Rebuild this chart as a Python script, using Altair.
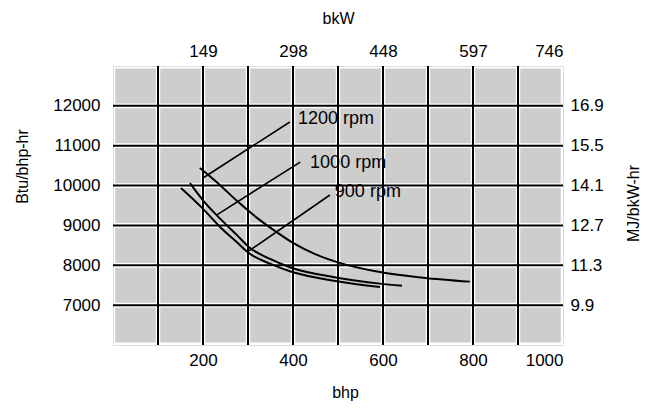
import json
import altair as alt
import pandas as pd

# ---- data ----
bhp_ticks = [200, 400, 600, 800, 1000]
bkw_labels = ["149", "298", "448", "597", "746"]
btu_ticks = [7000, 8000, 9000, 10000, 11000, 12000]
mj_labels = ["9.9", "11.3", "12.7", "14.1", "15.5", "16.9"]
x_grid = [100, 200, 300, 400, 500, 600, 700, 800, 900]
y_grid = [7000, 8000, 9000, 10000, 11000, 12000]

rpm_1200_x = [193, 238, 276, 320, 364, 400, 449, 498, 593, 689, 793]
rpm_1200_y = [10440, 10010, 9610, 9190, 8830, 8560, 8280, 8080, 7830, 7690, 7590]
rpm_1000_x = [171, 200, 238, 276, 304, 349, 393, 498, 593, 642]
rpm_1000_y = [10060, 9630, 9170, 8750, 8440, 8160, 7950, 7690, 7540, 7485]
rpm_900_x = [151, 198, 238, 276, 304, 349, 393, 498, 593]
rpm_900_y = [9940, 9440, 8960, 8570, 8290, 8040, 7850, 7600, 7455]

labels = ["1200 rpm", "1000 rpm", "900 rpm"]
label_x = [411, 438, 493]
label_y = [11670, 10566, 9839]
leader_from_x = [393, 416, 482]
leader_from_y = [11595, 10590, 9764]
leader_to_x = [200, 230, 302]
leader_to_y = [10190, 9260, 8360]

X_DOM = [0, 1000]
Y_DOM = [6000, 13000]
FONT = "Liberation Sans"

# ---- tables ----
cells = []
xs = [X_DOM[0]] + x_grid + [X_DOM[1]]
ys = [Y_DOM[0]] + y_grid + [Y_DOM[1]]
for i in range(len(xs) - 1):
    for j in range(len(ys) - 1):
        cells.append({"x": xs[i] + 5, "x2": xs[i + 1] - 5,
                      "y": ys[j] + 60, "y2": ys[j + 1] - 60})
cells = pd.DataFrame(cells)

curves = pd.concat([
    pd.DataFrame({"bhp": rpm_1200_x, "btu": rpm_1200_y, "s": "1200"}),
    pd.DataFrame({"bhp": rpm_1000_x, "btu": rpm_1000_y, "s": "1000"}),
    pd.DataFrame({"bhp": rpm_900_x, "btu": rpm_900_y, "s": "900"}),
])
leaders = []
for k, lab in enumerate(labels):
    leaders.append({"bhp": leader_from_x[k], "btu": leader_from_y[k], "s": lab, "o": 0})
    leaders.append({"bhp": leader_to_x[k], "btu": leader_to_y[k], "s": lab, "o": 1})
leaders = pd.DataFrame(leaders)
label_df = pd.DataFrame({"bhp": label_x, "btu": label_y, "t": labels})
vg = pd.DataFrame({"v": x_grid})
hg = pd.DataFrame({"v": y_grid})

xs_scale = alt.Scale(domain=X_DOM, nice=False, zero=False)
ys_scale = alt.Scale(domain=Y_DOM, nice=False, zero=False)

common_axis = dict(labelFont=FONT, titleFont=FONT, labelFontSize=17, titleFontSize=16,
                   labelColor="black", titleColor="black", titleFontWeight="normal",
                   ticks=False, tickSize=0, domain=False, grid=False)

x_bottom = alt.Axis(values=bhp_ticks, orient="bottom", title="bhp", labelPadding=15,
                    labelBaseline="middle", labelExpr="format(datum.value, 'd')",
                    titleX=232, titleY=47, titleBaseline="middle", **common_axis)
y_left = alt.Axis(values=btu_ticks, orient="left", title="Btu/bhp-hr", labelPadding=13,
                  labelExpr="format(datum.value, 'd')",
                  titleAngle=270, titleX=-91, titleY=100, titleAlign="center",
                  titleBaseline="middle", **common_axis)
x_top = alt.Axis(values=bhp_ticks, orient="top", title="bkW", labelPadding=15,
                 labelBaseline="middle",
                 labelExpr=json.dumps(bkw_labels) + "[datum.value / 200 - 1]",
                 titleX=225, titleY=-48, titleBaseline="middle", **common_axis)
y_right = alt.Axis(values=btu_ticks, orient="right", title="MJ/bkW-hr", labelPadding=7,
                   labelExpr=json.dumps(mj_labels) + "[(datum.value - 7000) / 1000]",
                   titleAngle=270, titleX=70, titleY=137, titleAlign="center",
                   titleBaseline="middle", **common_axis)

cell_layer = alt.Chart(cells).mark_rect(color="#cdcdcd").encode(
    x=alt.X("x:Q", scale=xs_scale, axis=x_bottom),
    x2="x2",
    y=alt.Y("y:Q", scale=ys_scale, axis=y_left),
    y2="y2",
)
vrules = alt.Chart(vg).mark_rule(color="black", strokeWidth=2).encode(
    x=alt.X("v:Q", scale=xs_scale, axis=x_top))
hrules = alt.Chart(hg).mark_rule(color="black", strokeWidth=2).encode(
    y=alt.Y("v:Q", scale=ys_scale, axis=y_right))
curve_layer = alt.Chart(curves).mark_line(color="black", strokeWidth=2,
                                          interpolate="monotone").encode(
    x=alt.X("bhp:Q", scale=xs_scale, axis=None),
    y=alt.Y("btu:Q", scale=ys_scale, axis=None), detail="s:N")
leader_layer = alt.Chart(leaders).mark_line(color="black", strokeWidth=1.6).encode(
    x=alt.X("bhp:Q", scale=xs_scale, axis=None),
    y=alt.Y("btu:Q", scale=ys_scale, axis=None),
    detail="s:N", order="o:Q")
text_layer = alt.Chart(label_df).mark_text(align="left", baseline="middle", font=FONT,
                                           fontSize=18, color="black").encode(
    x=alt.X("bhp:Q", scale=xs_scale, axis=None),
    y=alt.Y("btu:Q", scale=ys_scale, axis=None), text="t:N")

chart = alt.layer(cell_layer, vrules, hrules, curve_layer, leader_layer, text_layer).resolve_axis(
    x="independent", y="independent"
).properties(
    width=450, height=279,
    padding={"left": 105, "top": 58, "right": 83, "bottom": 60},
    autosize="none",
).configure_view(stroke="black", strokeWidth=2.5).configure(background="white")

chart.save("out.html", embed_options={"renderer": "svg", "actions": False})
